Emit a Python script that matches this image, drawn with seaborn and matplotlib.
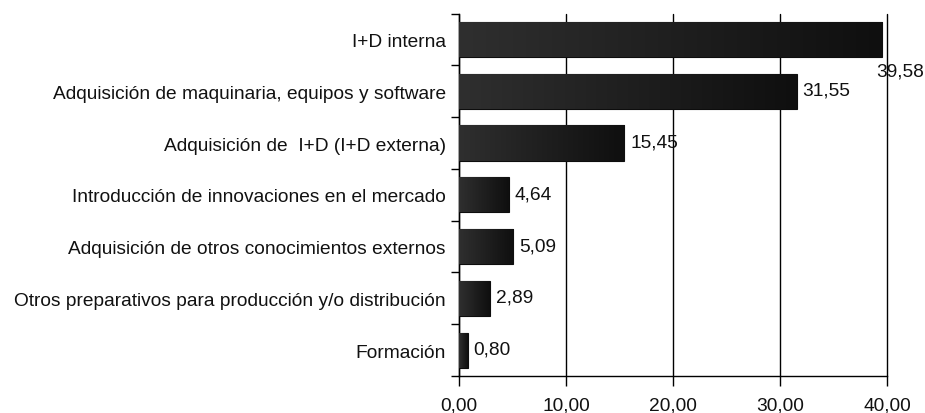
import matplotlib
matplotlib.use("Agg")
import matplotlib.pyplot as plt
from matplotlib.colors import LinearSegmentedColormap
from matplotlib.ticker import FixedLocator
import numpy as np
import seaborn as sns

categories = [
    "I+D interna",
    "Adquisición de maquinaria, equipos y software",
    "Adquisición de  I+D (I+D externa)",
    "Introducción de innovaciones en el mercado",
    "Adquisición de otros conocimientos externos",
    "Otros preparativos para producción y/o distribución",
    "Formación",
]
values = [39.58, 31.55, 15.45, 4.64, 5.09, 2.89, 0.80]
x_ticks = [0, 10, 20, 30, 40]

FS = 13.8


def fmt_es(v):
    return f"{v:.2f}".replace(".", ",")


sns.set_style("white")
plt.rcParams["font.family"] = ["Liberation Sans", "DejaVu Sans"]

fig = plt.figure(figsize=(9.25, 4.14), dpi=100)
ax = fig.add_axes([0.4962, 0.0894, 0.4627, 0.8751])

sns.barplot(x=values, y=categories, orient="h", width=0.68,
            color="#1a1a1a", edgecolor="#0d0d0d", linewidth=0.8,
            saturation=1, ax=ax, zorder=3)

# horizontal dark gradient inside each bar
cmap = LinearSegmentedColormap.from_list("bar", ["#2f2f2f", "#0f0f0f"])
grad = np.linspace(0, 1, 256).reshape(1, -1)
for p in ax.patches:
    x0, y0 = p.get_x(), p.get_y()
    w, h = p.get_width(), p.get_height()
    im = ax.imshow(grad, extent=[x0, x0 + w, y0 + h, y0], cmap=cmap,
                   aspect="auto", zorder=3.5, interpolation="bilinear")
    im.set_clip_path(p)

ax.set_xlim(0, 40)
ax.set_ylim(len(categories) - 0.5, -0.5)
ax.set_aspect("auto")

# value labels
for i, v in enumerate(values):
    if v > 38:
        ax.text(v - 0.55, i + 0.6, fmt_es(v), ha="left", va="center",
                fontsize=FS, color="#111111", zorder=5)
    else:
        ax.text(v + 0.55, i - 0.02, fmt_es(v), ha="left", va="center",
                fontsize=FS, color="#111111", zorder=5)

ax.set_xticks(x_ticks)
ax.set_xticklabels([fmt_es(t) for t in x_ticks], fontsize=FS, color="#111111")
ax.xaxis.grid(True, color="black", linewidth=1.0, zorder=0)
ax.yaxis.grid(False)
ax.set_axisbelow(True)
for gl in ax.get_xgridlines():
    gl.set_clip_on(False)

ax.tick_params(axis="x", direction="out", length=7, width=1, color="black",
               pad=8, bottom=True)
ax.tick_params(axis="y", which="major", length=0, pad=9.5, labelsize=FS,
               labelcolor="#111111")
ax.yaxis.set_minor_locator(FixedLocator(np.arange(-0.5, len(categories), 1.0)))
ax.tick_params(axis="y", which="minor", direction="out", length=6, width=1,
               color="black", left=True)

for side in ("top", "right"):
    ax.spines[side].set_visible(False)
for side in ("left", "bottom"):
    ax.spines[side].set_color("black")
    ax.spines[side].set_linewidth(1.0)

ax.set_xlabel("")
ax.set_ylabel("")

fig.savefig("out.png", dpi=100)
